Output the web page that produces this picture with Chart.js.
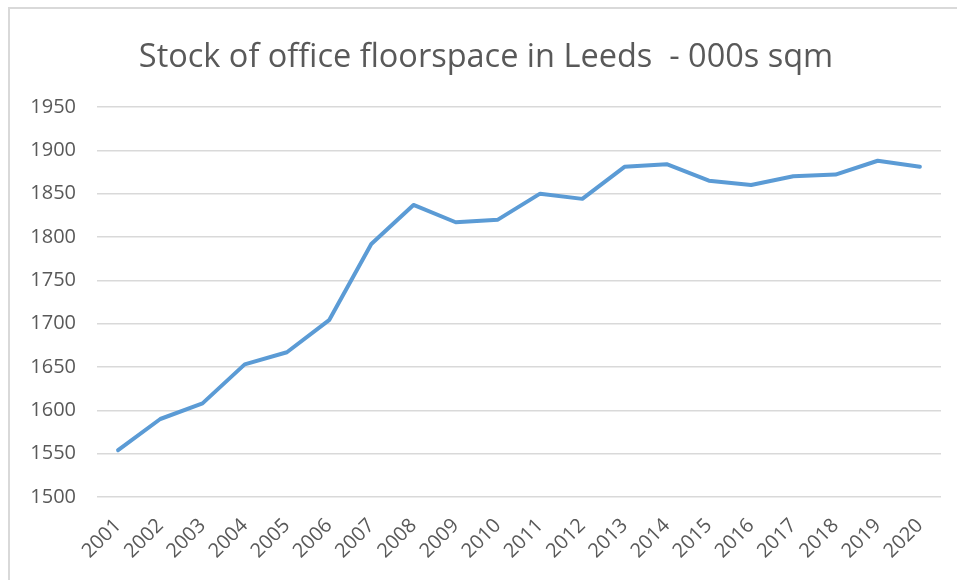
<!DOCTYPE html>
<html>
<head>
<meta charset="utf-8">
<script src="https://cdn.jsdelivr.net/npm/chart.js@4/dist/chart.umd.min.js"></script>
<style>
  html, body { margin: 0; padding: 0; background: #ffffff; }
  #wrap { position: relative; width: 957px; height: 580px; overflow: hidden; background: #ffffff; }
  #frame { position: absolute; left: 8px; top: 7px; width: 1200px; height: 1200px; border: 2px solid #d9d9d9; box-sizing: border-box; }
  #c { position: absolute; left: 0; top: 0; }
</style>
</head>
<body>
<div id="wrap">
  <div id="frame"></div>
  <canvas id="c" width="957" height="580"></canvas>
</div>
<script>
const titleText = "Stock of office floorspace in Leeds  - 000s sqm";
const years = ["2001","2002","2003","2004","2005","2006","2007","2008","2009","2010",
               "2011","2012","2013","2014","2015","2016","2017","2018","2019","2020"];
const stock = [1554, 1590, 1608, 1653, 1667, 1704, 1792, 1837, 1817, 1820,
               1850, 1844, 1881, 1884, 1865, 1860, 1870, 1872, 1888, 1881];
const yMin = 1500, yMax = 1950, yStep = 50;

const grey = "#595959";
const fontFam = "'Open Sans', 'Liberation Sans', sans-serif";

new Chart(document.getElementById("c"), {
  type: "line",
  data: {
    labels: years,
    datasets: [{
      label: "Stock",
      data: stock,
      borderColor: "#5b9bd5",
      backgroundColor: "#5b9bd5",
      borderWidth: 4,
      pointRadius: 0,
      tension: 0,
      borderCapStyle: "round",
      borderJoinStyle: "round",
      fill: false
    }]
  },
  options: {
    responsive: false,
    animation: false,
    devicePixelRatio: 1,
    layout: { padding: { left: 31, right: 16, top: 0, bottom: 0 } },
    plugins: {
      legend: { display: false },
      tooltip: { enabled: false },
      title: {
        display: true,
        text: titleText,
        color: grey,
        font: { family: fontFam, size: 32.5, weight: "400", lineHeight: 1.2 },
        padding: { top: 38, bottom: 30 }
      }
    },
    scales: {
      x: {
        offset: true,
        grid: { display: false, drawTicks: false },
        border: { display: false },
        ticks: {
          color: grey,
          font: { family: fontFam, size: 20 },
          minRotation: 45,
          maxRotation: 45,
          padding: 17,
          autoSkip: false
        },
        afterFit: (s) => { s.height = 83; s.paddingRight = 0; }
      },
      y: {
        min: yMin,
        max: yMax,
        grid: { color: "#d9d9d9", lineWidth: 1.5, drawTicks: false },
        border: { display: false },
        ticks: {
          stepSize: yStep,
          color: grey,
          font: { family: fontFam, size: 20 },
          padding: 21,
          callback: (v) => String(v)
        },
        afterFit: (s) => { s.width = 66; }
      }
    }
  }
});
</script>
</body>
</html>
